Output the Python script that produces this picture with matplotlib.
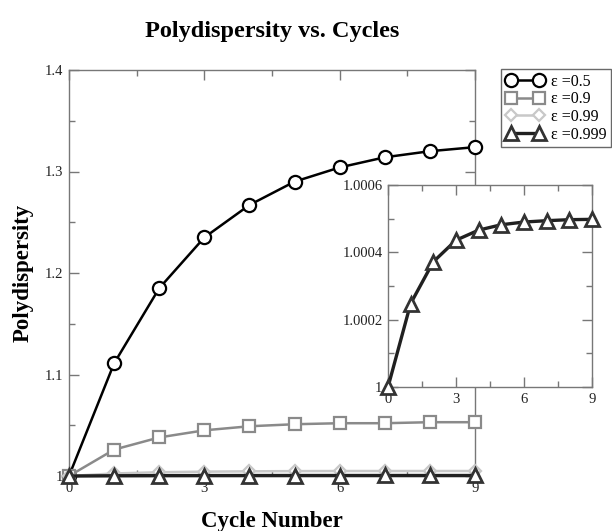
import matplotlib
matplotlib.use("Agg")
import matplotlib.pyplot as plt
from matplotlib.ticker import MultipleLocator

plt.rcParams['font.family'] = ['Liberation Serif', 'DejaVu Serif']

cycles = [0, 1, 2, 3, 4, 5, 6, 7, 8, 9]
eps_05 = [1.0, 1.111, 1.185, 1.235, 1.267, 1.290, 1.304, 1.314, 1.320, 1.324]
eps_09 = [1.0, 1.026, 1.038, 1.045, 1.049, 1.051, 1.052, 1.052, 1.053, 1.053]
eps_099 = [1.0, 1.0025, 1.0037, 1.0043, 1.0046, 1.0048, 1.0049, 1.0049, 1.0049, 1.0049]
eps_0999 = [1.0, 1.000248, 1.000372, 1.000436, 1.000466, 1.000482, 1.000490, 1.000494, 1.000497, 1.000498]

labels = ["ε =0.5", "ε =0.9", "ε =0.99", "ε =0.999"]
main_yticks = [1.0, 1.1, 1.2, 1.3, 1.4]
main_yticklabels = ["1", "1.1", "1.2", "1.3", "1.4"]
inset_yticks = [1.0, 1.0002, 1.0004, 1.0006]
inset_yticklabels = ["1", "1.0002", "1.0004", "1.0006"]
xticks = [0, 3, 6, 9]

W, H = 612, 531
fig = plt.figure(figsize=(W / 100, H / 100), dpi=100)

ax = fig.add_axes([69 / W, 1 - 476 / H, 406 / W, 406 / H])

styles = [
    dict(color='black', marker='o', mfc='white', mec='black', ms=9.5, mew=1.6, lw=1.8),
    dict(color='#8a8a8a', marker='s', mfc='white', mec='#8a8a8a', ms=8.5, mew=1.6, lw=1.8),
    dict(color='#c8c8c8', marker='D', mfc='white', mec='#c8c8c8', ms=6.5, mew=1.6, lw=1.8),
    dict(color='#202020', marker='^', mfc='white', mec='#333333', ms=9.5, mew=2.0, lw=2.4),
]
series = [eps_05, eps_09, eps_099, eps_0999]
handles = []
for i, (ys, st, lab) in enumerate(zip(series, styles, labels)):
    h, = ax.plot(cycles, ys, label=lab, clip_on=False, zorder=3 + i, **st)
    handles.append(h)


def style_axes(a, yticks, yticklabels, ymin, ymax, yminor):
    a.set_xlim(0, 9)
    a.set_ylim(ymin, ymax)
    a.set_xticks(xticks)
    a.set_xticklabels([str(t) for t in xticks])
    a.set_yticks(yticks)
    a.set_yticklabels(yticklabels)
    a.xaxis.set_minor_locator(MultipleLocator(1.5))
    a.yaxis.set_minor_locator(MultipleLocator(yminor))
    a.tick_params(which='both', direction='in', top=True, right=True,
                  color='#777777', labelsize=10.5, labelcolor='#222222', pad=4)
    a.tick_params(which='major', length=7, width=1)
    a.tick_params(which='minor', length=4, width=1)
    for s in a.spines.values():
        s.set_color('#777777')
        s.set_linewidth(1)


style_axes(ax, main_yticks, main_yticklabels, 1.0, 1.4, 0.05)
ax.set_xlabel("Cycle Number", fontsize=16.5, fontweight='bold', labelpad=12)
ax.set_ylabel("Polydispersity", fontsize=16.5, fontweight='bold', labelpad=8)
ax.set_title("Polydispersity vs. Cycles", fontsize=17.5, fontweight='bold', pad=24)

# inset with the eps=0.999 curve on its own scale
ins = fig.add_axes([388 / W, 1 - 387 / H, 204 / W, 202 / H])
ins.plot(cycles, eps_0999, clip_on=False, zorder=5, **styles[3])
style_axes(ins, inset_yticks, inset_yticklabels, 1.0, 1.0006, 0.0001)

leg = fig.legend(handles=handles, loc='upper right', bbox_to_anchor=(611 / W, 1 - 69 / H),
                 borderaxespad=0, fontsize=11.5, numpoints=2, handlelength=2.4,
                 handletextpad=0.4, labelspacing=0.1, borderpad=0.3,
                 fancybox=False, frameon=True)
leg.get_frame().set_edgecolor('#444444')
leg.get_frame().set_linewidth(1)

fig.savefig("out.png", dpi=100)
